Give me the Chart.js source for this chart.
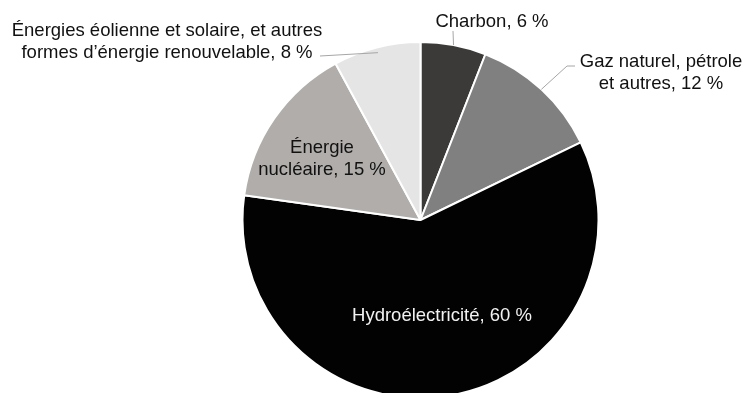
<!DOCTYPE html>
<html lang="fr">
<head>
<meta charset="utf-8">
<title>Production d'électricité par source</title>
<script src="https://cdn.jsdelivr.net/npm/chart.js@4/dist/chart.umd.min.js"></script>
<style>
    html, body { margin: 0; padding: 0; background: #fff; overflow: hidden; }
    #wrap { width: 746px; height: 393px; }
</style>
</head>
<body>
<div id="wrap"><canvas id="sourceChart" width="746" height="393"></canvas></div>
<script>
// Sources, clockwise from 12 o'clock ("\n" marks where the label wraps)
const sources = [
    'Charbon',
    'Gaz naturel, pétrole\net autres',
    'Hydroélectricité',
    'Énergie\nnucléaire',
    'Énergies éolienne et solaire, et autres\nformes d’énergie renouvelable'
];
const shares = [6, 12, 60, 15, 8];
const sliceColors = ['#3b3a39', '#808080', '#020203', '#b0adab', '#e6e5e5'];
const textColors = ['#111', '#111', '#f2f2f2', '#111', '#111'];

// Where each label sits (centre x, first baseline) and its leader line, if any
const labelLayout = [
    { x: 492, y: 27, leader: { reach: 1.0, via: [[453, 31]] } },
    { x: 661, y: 67, leader: { reach: 1.0, via: [[567, 66], [575, 66]] } },
    { x: 442, y: 321 },
    { x: 322, y: 153 },
    { x: 167, y: 36, leader: { reach: 0.97, via: [[320, 56]] } }
];
const lineHeight = 21.5;

const sliceLabels = {
    id: 'sliceLabels',
    afterDatasetsDraw(chart) {
        const ctx = chart.ctx;
        const arcs = chart.getDatasetMeta(0).data;
        ctx.save();
        ctx.font = '18.5px "Liberation Sans", Arial, sans-serif';
        ctx.textAlign = 'center';
        ctx.textBaseline = 'alphabetic';
        arcs.forEach((arc, i) => {
            const pos = labelLayout[i];
            if (pos.leader) {
                const p = arc.getProps(['x', 'y', 'startAngle', 'endAngle', 'outerRadius'], true);
                const mid = (p.startAngle + p.endAngle) / 2;
                const r = p.outerRadius * pos.leader.reach;
                ctx.beginPath();
                ctx.moveTo(p.x + Math.cos(mid) * r, p.y + Math.sin(mid) * r);
                pos.leader.via.forEach(pt => ctx.lineTo(pt[0], pt[1]));
                ctx.strokeStyle = '#a6a6a6';
                ctx.lineWidth = 1;
                ctx.stroke();
            }
            const lines = (sources[i] + ', ' + shares[i] + ' %').split('\n');
            ctx.fillStyle = textColors[i];
            lines.forEach((line, k) => ctx.fillText(line, pos.x, pos.y + k * lineHeight));
        });
        ctx.restore();
    }
};

new Chart(document.getElementById('sourceChart'), {
    type: 'pie',
    data: {
        labels: sources,
        datasets: [{
            data: shares,
            backgroundColor: sliceColors,
            borderColor: '#fff',
            borderWidth: 2
        }]
    },
    options: {
        responsive: false,
        animation: false,
        devicePixelRatio: 1,
        radius: 178,
        layout: { padding: { left: 95, top: 47, right: 0, bottom: 0 } },
        plugins: {
            legend: { display: false },
            tooltip: { enabled: false }
        }
    },
    plugins: [sliceLabels]
});
</script>
</body>
</html>
